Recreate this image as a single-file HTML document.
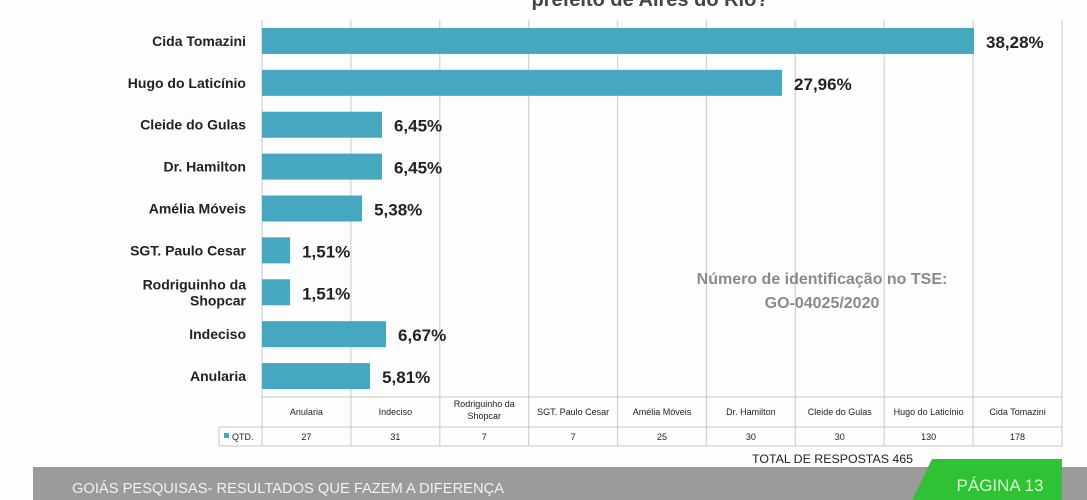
<!DOCTYPE html>
<html><head><meta charset="utf-8">
<style>
html,body{margin:0;padding:0;background:#fff;}
body{width:1087px;height:500px;overflow:hidden;position:relative;font-family:"Liberation Sans",sans-serif;}
</style></head>
<body>
<svg id="chart" width="1087" height="500" xmlns="http://www.w3.org/2000/svg" style="position:absolute;left:0;top:0">
  <rect x="0" y="0" width="1087" height="500" fill="#fdfdfd"/>
  <text x="650" y="6" text-anchor="middle" font-size="20" font-weight="bold" fill="#444">prefeito de Aires do Rio?</text>
  <g id="grid"></g>
  <g id="bars"></g>
  <g id="table"></g>
  <text x="822" y="284" text-anchor="middle" font-size="16" font-weight="bold" fill="#8a8a8a">Número de identificação no TSE:</text>
  <text x="822" y="308" text-anchor="middle" font-size="16" font-weight="bold" fill="#8a8a8a">GO-04025/2020</text>
  <text x="752" y="463" font-size="12" textLength="161" lengthAdjust="spacingAndGlyphs" fill="#222">TOTAL DE RESPOSTAS 465</text>
  <rect x="33" y="467" width="1054" height="33" fill="#9b9b9b"/>
  <text x="72" y="493" font-size="15" textLength="432" lengthAdjust="spacingAndGlyphs" fill="#f2f2f2">GOIÁS PESQUISAS- RESULTADOS QUE FAZEM A DIFERENÇA</text>
  <polygon points="932,459 1062,459 1062,500 912,500" fill="#2fc234"/>
  <text x="1000" y="491" text-anchor="middle" font-size="17" fill="#d8f7d0">PÁGINA 13</text>
</svg>
<script>
const categories=["Cida Tomazini","Hugo do Laticínio","Cleide do Gulas","Dr. Hamilton","Amélia Móveis","SGT. Paulo Cesar","Rodriguinho da Shopcar","Indeciso","Anularia"];
const percents=[38.28,27.96,6.45,6.45,5.38,1.51,1.51,6.67,5.81];
const tableCats=["Anularia","Indeciso","Rodriguinho da Shopcar","SGT. Paulo Cesar","Amélia Móveis","Dr. Hamilton","Cleide do Gulas","Hugo do Laticínio","Cida Tomazini"];
const counts=[27,31,7,7,25,30,30,130,178];
const NS="http://www.w3.org/2000/svg";
const X0=262,X1=1062,PT=20,PB=397,XMAX=800/18.6;
const xs=v=>X0+v/XMAX*(X1-X0);
const band=(PB-PT)/categories.length;
const ys=i=>PT+band*i+band/2;
function mk(t,a,p){const e=document.createElementNS(NS,t);for(const k in a)e.setAttribute(k,a[k]);p.appendChild(e);return e;}
const grid=document.getElementById('grid'),bars=document.getElementById('bars'),tbl=document.getElementById('table');
const colW=(X1-X0)/9;
for(let i=0;i<=9;i++){const l=mk('line',{x1:X0+i*colW,x2:X0+i*colW,y1:PT,y2:446,stroke:'#d4d4d4','stroke-width':1.3},grid);

}
categories.forEach((c,i)=>{
 const y=ys(i);
 const r=mk('rect',{x:X0,y:y-13,width:xs(percents[i])-X0,height:26,fill:'#45a8c0'},bars);
 
 
 const lbl=mk('text',{x:246,'text-anchor':'end','font-size':14,'font-weight':'bold',fill:'#222'},bars);
 
 
 const parts=c==="Rodriguinho da Shopcar"?["Rodriguinho da","Shopcar"]:[c];
 parts.forEach((p,k)=>{const ts=mk('tspan',{x:246,y:y+5+(parts.length>1?(k-0.5)*16:0)},lbl);ts.textContent=p;});
 const v=mk('text',{x:xs(percents[i])+12,y:y+7,'font-size':17,'font-weight':'bold',fill:'#222'},bars);
 
 
 v.textContent=percents[i].toFixed(2).replace('.',',')+'%';
});
mk('line',{x1:X0,x2:X1,y1:397,y2:397,stroke:'#c8c8c8'},tbl);
mk('line',{x1:219,x2:X1,y1:427,y2:427,stroke:'#c8c8c8'},tbl);
mk('line',{x1:219,x2:X1,y1:446,y2:446,stroke:'#c8c8c8'},tbl);
mk('line',{x1:219,x2:219,y1:427,y2:446,stroke:'#c8c8c8'},tbl);
const sq=mk('rect',{x:224,y:433,width:5,height:5,fill:'#45a8c0'},tbl);
const ql=mk('text',{x:232,y:440,'font-size':9,fill:'#222'},tbl);ql.textContent='QTD.';


tableCats.forEach((c,i)=>{
 const cx=X0+colW*(i+0.5);
 const t=mk('text',{'text-anchor':'middle','font-size':9,fill:'#222'},tbl);
 
 
 const parts=c==="Rodriguinho da Shopcar"?["Rodriguinho da","Shopcar"]:[c];
 parts.forEach((p,k)=>{const ts=mk('tspan',{x:cx,y:parts.length>1?407+k*12:415},t);ts.textContent=p;});
 const n=mk('text',{x:cx,y:440,'text-anchor':'middle','font-size':9,fill:'#222'},tbl);
 
 
 n.textContent=counts[i];
});
</script>
</body></html>
